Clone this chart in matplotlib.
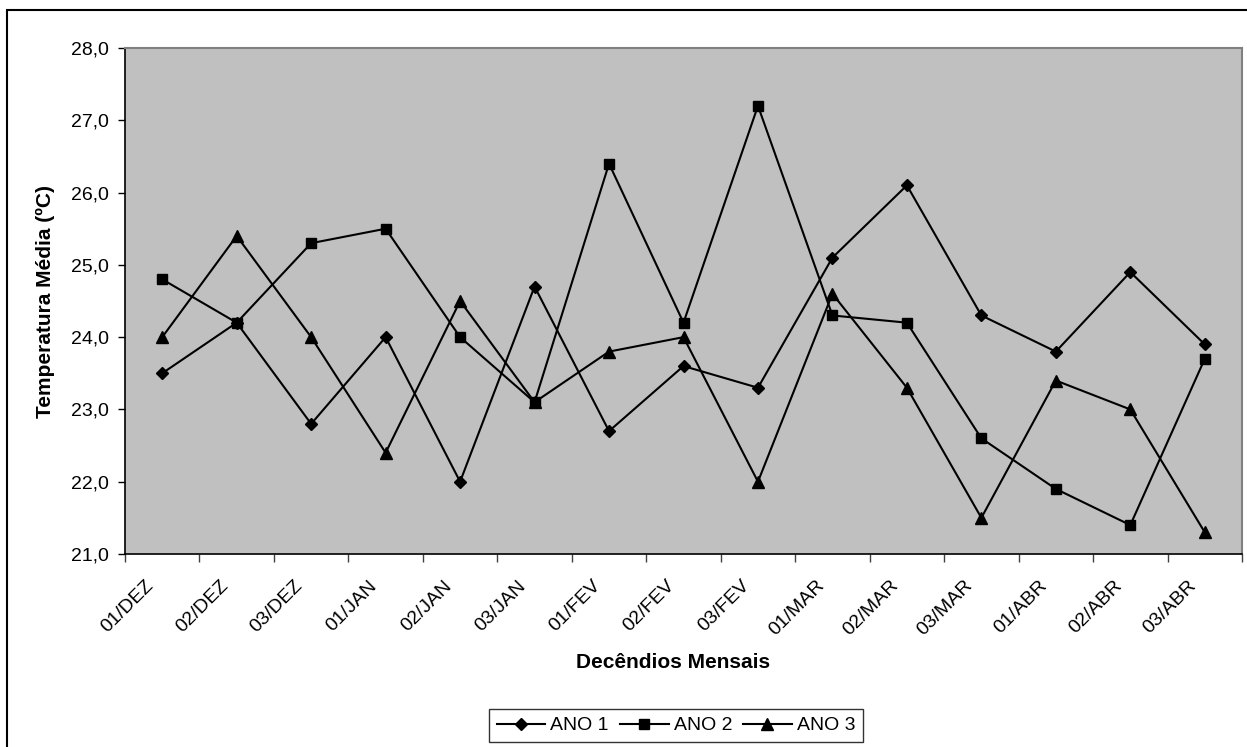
import numpy as np
import matplotlib
matplotlib.use("Agg")
import matplotlib.pyplot as plt
import matplotlib.ticker as ticker
from matplotlib.patches import Rectangle
from matplotlib.transforms import ScaledTranslation

plt.rcParams['font.family'] = ['Liberation Sans', 'DejaVu Sans']

# Dados
decendios = ['01/DEZ', '02/DEZ', '03/DEZ', '01/JAN', '02/JAN', '03/JAN',
             '01/FEV', '02/FEV', '03/FEV', '01/MAR', '02/MAR', '03/MAR',
             '01/ABR', '02/ABR', '03/ABR']
ano1 = [23.5, 24.2, 22.8, 24.0, 22.0, 24.7, 22.7, 23.6, 23.3, 25.1, 26.1, 24.3, 23.8, 24.9, 23.9]
ano2 = [24.8, 24.2, 25.3, 25.5, 24.0, 23.1, 26.4, 24.2, 27.2, 24.3, 24.2, 22.6, 21.9, 21.4, 23.7]
ano3 = [24.0, 25.4, 24.0, 22.4, 24.5, 23.1, 23.8, 24.0, 22.0, 24.6, 23.3, 21.5, 23.4, 23.0, 21.3]
series_names = ['ANO 1', 'ANO 2', 'ANO 3']

W, H = 1247, 747
fig = plt.figure(figsize=(W / 100, H / 100), dpi=100)

# moldura da figura (cortada a direita e embaixo, como no original)
fig.patches.append(Rectangle((7 / W, -0.05), 1.1, 1 - 10 / H + 0.05,
                             transform=fig.transFigure, fill=False,
                             edgecolor='black', linewidth=1.5))

ax = fig.add_axes([125 / W, 1 - 554 / H, (1242 - 125) / W, (554 - 48) / H])
ax.set_facecolor('#C0C0C0')

x = np.arange(len(decendios)) + 0.5
ax.plot(x, ano1, color='black', lw=1.5, marker='D', ms=6.5, label=series_names[0])
ax.plot(x, ano2, color='black', lw=1.5, marker='s', ms=7.5, label=series_names[1])
ax.plot(x, ano3, color='black', lw=1.5, marker='^', ms=8.5, label=series_names[2])

ax.set_xlim(0, len(decendios))
ax.set_ylim(21.0, 28.0)

# eixo y
ax.yaxis.set_major_locator(ticker.MultipleLocator(1.0))
ax.yaxis.set_major_formatter(ticker.FuncFormatter(lambda v, p: f"{v:.1f}".replace('.', ',')))
ax.tick_params(axis='y', direction='out', length=5, width=1, labelsize=14, pad=6.5)

# eixo x: ticks entre categorias, rótulos no centro
ax.xaxis.set_major_locator(ticker.FixedLocator(np.arange(len(decendios) + 1)))
ax.xaxis.set_major_formatter(ticker.NullFormatter())
ax.xaxis.set_minor_locator(ticker.FixedLocator(x))
ax.set_xticklabels(decendios, minor=True, rotation=45, ha='right', va='center',
                   rotation_mode='anchor')
ax.tick_params(axis='x', which='major', direction='out', length=6, width=1, color='#404040')
ax.tick_params(axis='x', which='minor', length=0, labelsize=14, pad=21)
shift = ScaledTranslation(-11 / 100, 0, fig.dpi_scale_trans)
for lab in ax.get_xticklabels(minor=True):
    lab.set_transform(lab.get_transform() + shift)

for s in ['left', 'bottom']:
    ax.spines[s].set_color('black')
    ax.spines[s].set_linewidth(1.2)
for s in ['top', 'right']:
    ax.spines[s].set_color('#808080')
    ax.spines[s].set_linewidth(1.5)

fig.text(45 / W, 1 - 301 / H, 'Temperatura Média (ºC)', rotation=90,
         ha='center', va='center', fontsize=15, fontweight='bold')
fig.text(673 / W, 1 - 663 / H, 'Decêndios Mensais', ha='center', va='center',
         fontsize=15, fontweight='bold')

leg = fig.legend(loc='center', bbox_to_anchor=(676 / W, 1 - 725.5 / H), ncol=3,
                 fontsize=14, frameon=True, fancybox=False, edgecolor='black',
                 handlelength=2.5, handletextpad=0.26, columnspacing=0.57,
                 borderpad=0.4, borderaxespad=0)
leg.get_frame().set_linewidth(1.0)

fig.savefig('out.png', dpi=100)
